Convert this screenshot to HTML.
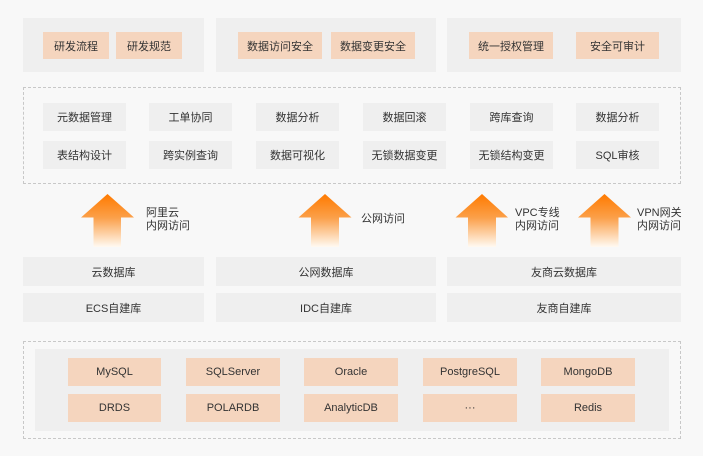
<!DOCTYPE html>
<html><head><meta charset="utf-8">
<style>
*{margin:0;padding:0;box-sizing:border-box}
body{width:703px;height:456px;background:#f8f8f8;position:relative;overflow:hidden;font-family:"Liberation Sans","Noto Sans CJK SC",sans-serif;font-size:11px;color:#333}
.a{position:absolute}
.p{position:absolute;background:#efefef}
.o{position:absolute;background:#f5d5be;display:flex;align-items:center;justify-content:center}
.g{position:absolute;background:#efefef;display:flex;align-items:center;justify-content:center}
.d{position:absolute;border:1px dashed #c8c8c8}
.lbl{position:absolute;line-height:13px;font-size:11px;color:#333}
</style></head><body>
<!-- top panels -->
<div class="p" style="left:23px;top:18px;width:181px;height:54px"></div>
<div class="p" style="left:216px;top:18px;width:220px;height:54px"></div>
<div class="p" style="left:447px;top:18px;width:234px;height:54px"></div>
<div class="o" style="left:43px;top:32px;width:66px;height:27px">研发流程</div>
<div class="o" style="left:116px;top:32px;width:66px;height:27px">研发规范</div>
<div class="o" style="left:238px;top:32px;width:84px;height:27px">数据访问安全</div>
<div class="o" style="left:331px;top:32px;width:84px;height:27px">数据变更安全</div>
<div class="o" style="left:469px;top:32px;width:84px;height:27px">统一授权管理</div>
<div class="o" style="left:576px;top:32px;width:83px;height:27px">安全可审计</div>
<!-- dashed tools -->
<div class="d" style="left:23px;top:87px;width:658px;height:97px"></div>
<div class="g" style="left:43px;top:103px;width:83px;height:28px">元数据管理</div>
<div class="g" style="left:149px;top:103px;width:83px;height:28px">工单协同</div>
<div class="g" style="left:256px;top:103px;width:83px;height:28px">数据分析</div>
<div class="g" style="left:363px;top:103px;width:83px;height:28px">数据回滚</div>
<div class="g" style="left:470px;top:103px;width:83px;height:28px">跨库查询</div>
<div class="g" style="left:576px;top:103px;width:83px;height:28px">数据分析</div>
<div class="g" style="left:43px;top:141px;width:83px;height:28px">表结构设计</div>
<div class="g" style="left:149px;top:141px;width:83px;height:28px">跨实例查询</div>
<div class="g" style="left:256px;top:141px;width:83px;height:28px">数据可视化</div>
<div class="g" style="left:363px;top:141px;width:83px;height:28px">无锁数据变更</div>
<div class="g" style="left:470px;top:141px;width:83px;height:28px">无锁结构变更</div>
<div class="g" style="left:576px;top:141px;width:83px;height:28px">SQL审核</div>
<!-- arrows -->
<svg class="a" style="left:0;top:0" width="703" height="456">
<defs>
<linearGradient id="ag" x1="0" y1="0" x2="0" y2="1">
<stop offset="0" stop-color="#ff7a00"/>
<stop offset="0.45" stop-color="#fba04a"/>
<stop offset="1" stop-color="#fffaf2"/>
</linearGradient>
</defs>
<g fill="url(#ag)">
<polygon points="107.5,194 134,217.5 121,217.5 121,247 93.5,247 93.5,217.5 81,217.5"/>
<polygon points="325,194 351.5,217.5 339,217.5 339,247 311,247 311,217.5 298.5,217.5"/>
<polygon points="482,194 508,217.5 496,217.5 496,247 468,247 468,217.5 455.5,217.5"/>
<polygon points="604.5,194 631,217.5 618.5,217.5 618.5,247 590.5,247 590.5,217.5 578,217.5"/>
</g>
</svg>
<div class="lbl" style="left:146px;top:207px">阿里云<br>内网访问</div>
<div class="lbl" style="left:361px;top:213px">公网访问</div>
<div class="lbl" style="left:515px;top:207px">VPC专线<br>内网访问</div>
<div class="lbl" style="left:637px;top:207px">VPN网关<br>内网访问</div>
<!-- source rows -->
<div class="g" style="left:23px;top:257px;width:181px;height:29px">云数据库</div>
<div class="g" style="left:216px;top:257px;width:220px;height:29px">公网数据库</div>
<div class="g" style="left:447px;top:257px;width:234px;height:29px">友商云数据库</div>
<div class="g" style="left:23px;top:293px;width:181px;height:29px">ECS自建库</div>
<div class="g" style="left:216px;top:293px;width:220px;height:29px">IDC自建库</div>
<div class="g" style="left:447px;top:293px;width:234px;height:29px">友商自建库</div>
<!-- bottom -->
<div class="d" style="left:23px;top:341px;width:658px;height:98px"></div>
<div class="p" style="left:35px;top:349px;width:634px;height:82px"></div>
<div class="o" style="left:68px;top:358px;width:93px;height:28px">MySQL</div>
<div class="o" style="left:186px;top:358px;width:94px;height:28px">SQLServer</div>
<div class="o" style="left:304px;top:358px;width:94px;height:28px">Oracle</div>
<div class="o" style="left:423px;top:358px;width:94px;height:28px">PostgreSQL</div>
<div class="o" style="left:541px;top:358px;width:94px;height:28px">MongoDB</div>
<div class="o" style="left:68px;top:394px;width:93px;height:28px">DRDS</div>
<div class="o" style="left:186px;top:394px;width:94px;height:28px">POLARDB</div>
<div class="o" style="left:304px;top:394px;width:94px;height:28px">AnalyticDB</div>
<div class="o" style="left:423px;top:394px;width:94px;height:28px">···</div>
<div class="o" style="left:541px;top:394px;width:94px;height:28px">Redis</div>
</body></html>
